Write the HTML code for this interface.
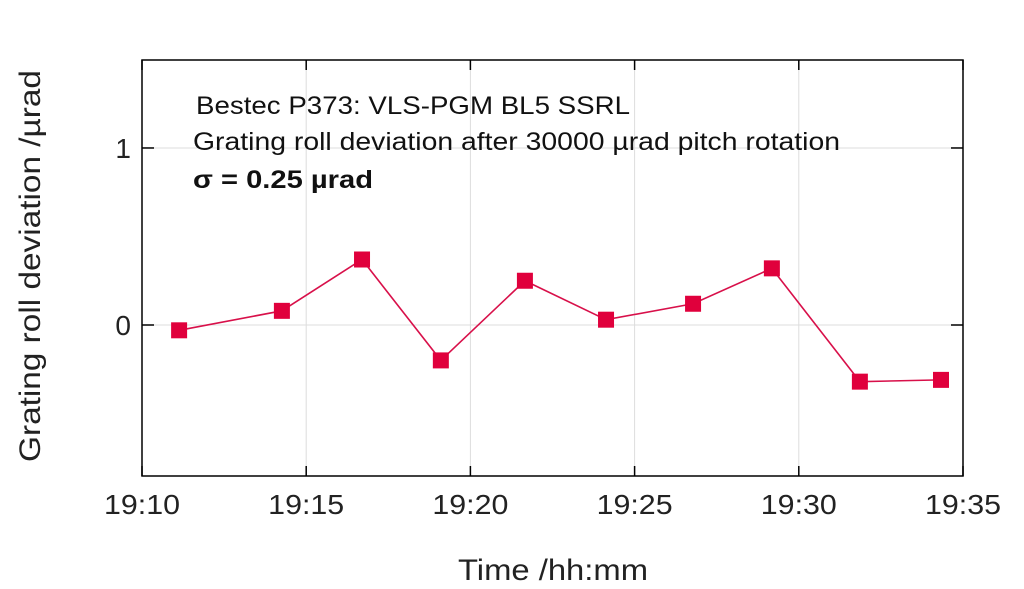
<!DOCTYPE html>
<html><head><meta charset="utf-8"><style>
body{margin:0;background:#fff;}
svg{display:block;font-family:"Liberation Sans",sans-serif;}
</style></head><body>
<svg id="chart" width="1024" height="589">
<g id="grid"></g>
<g id="axes"></g>
<g id="series"></g>
<text x="196" y="114" font-size="25" fill="#111" textLength="434" lengthAdjust="spacingAndGlyphs">Bestec P373: VLS-PGM BL5 SSRL</text>
<text x="193" y="150" font-size="25" fill="#111" textLength="647" lengthAdjust="spacingAndGlyphs">Grating roll deviation after 30000 µrad pitch rotation</text>
<text x="193" y="188" font-size="25" font-weight="bold" fill="#111" textLength="180" lengthAdjust="spacingAndGlyphs">σ = 0.25 µrad</text>
<text x="553" y="580" font-size="30" text-anchor="middle" fill="#222" textLength="190" lengthAdjust="spacingAndGlyphs">Time /hh:mm</text>
<text transform="translate(40,266) rotate(-90)" font-size="30" text-anchor="middle" fill="#222" textLength="392" lengthAdjust="spacingAndGlyphs">Grating roll deviation /µrad</text>
</svg>
<script>
const times=[11.13,14.26,16.70,19.10,21.66,24.13,26.78,29.18,31.86,34.33];
const values=[-0.03,0.08,0.37,-0.20,0.25,0.03,0.12,0.32,-0.32,-0.31];
const xTicks=[10,15,20,25,30,35];
const xTickLabels=["19:10","19:15","19:20","19:25","19:30","19:35"];
const yTicks=[0,1];
const yTickLabels=["0","1"];
const L=142,R=963,T=60,B=476;
const xMin=10,xMax=35,yMin=-0.853,yMax=1.497;
const X=v=>L+(v-xMin)/(xMax-xMin)*(R-L);
const Y=v=>B-(v-yMin)/(yMax-yMin)*(B-T);
const NS="http://www.w3.org/2000/svg";
function mk(p,tag,a){const e=document.createElementNS(NS,tag);for(const k in a)e.setAttribute(k,a[k]);p.appendChild(e);return e;}
const grid=document.getElementById('grid'),axes=document.getElementById('axes'),series=document.getElementById('series');
xTicks.forEach((t,i)=>{
  if(t>xMin&&t<xMax){const g=mk(grid,'line',{x1:X(t),x2:X(t),y1:T,y2:B,stroke:'#ddd','stroke-width':1});
  
  }
  [[B,B-10],[T,T+10]].forEach(([a,b])=>{const tk=mk(axes,'line',{x1:X(t),x2:X(t),y1:a,y2:b,stroke:'#000','stroke-width':1.5});
  
  });
  const lb=mk(axes,'text',{x:X(t),y:514,'font-size':28,'text-anchor':'middle',fill:'#222',textLength:76,lengthAdjust:'spacingAndGlyphs'});
  lb.textContent=xTickLabels[i];
  
  
});
yTicks.forEach((t,i)=>{
  const g=mk(grid,'line',{x1:L,x2:R,y1:Y(t),y2:Y(t),stroke:'#ddd','stroke-width':1});
  
  
  [[L,L+12],[R,R-12]].forEach(([a,b])=>{const tk=mk(axes,'line',{x1:a,x2:b,y1:Y(t),y2:Y(t),stroke:'#000','stroke-width':1.5});
  
  });
  const lb=mk(axes,'text',{x:131,y:Y(t)+10,'font-size':28,'text-anchor':'end',fill:'#222'});
  lb.textContent=yTickLabels[i];
  
  
});
const frame=mk(axes,'rect',{x:L,y:T,width:R-L,height:B-T,fill:'none',stroke:'#000','stroke-width':1.5});


const pl=mk(series,'polyline',{points:times.map((t,i)=>X(t)+','+Y(values[i])).join(' '),fill:'none',stroke:'#d8104a','stroke-width':1.6});


times.forEach((t,i)=>{
  const m=mk(series,'rect',{x:X(t)-8,y:Y(values[i])-8,width:16,height:16,fill:'#e0003c'});
  
  
});
</script>
</body></html>
